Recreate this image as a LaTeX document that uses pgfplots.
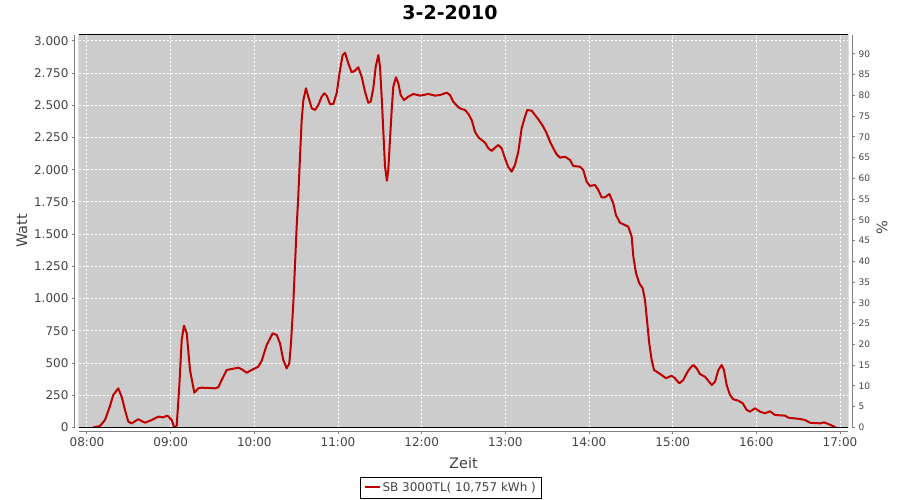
\documentclass[border=0pt]{standalone}
\usepackage{pgfplots}
\pgfplotsset{compat=1.18}
\usepackage{fontspec}
\setmainfont{DejaVu Sans}
\definecolor{plotbg}{RGB}{204,204,204}
\definecolor{serie}{RGB}{192,0,0}
\definecolor{txtgray}{RGB}{68,68,68}
\definecolor{axgray}{RGB}{128,128,128}
\begin{document}
\begin{tikzpicture}
\useasboundingbox (0,0) rectangle (900pt,500pt);
\begin{axis}[
  at={(79pt,72.5pt)}, anchor=south west,
  scale only axis, width=769pt, height=392.8pt,
  xmin=7.9044, xmax=17.0956, ymin=0, ymax=3048,
  axis background/.style={fill=plotbg},
  axis x line*=bottom, axis y line*=left,
  axis x line shift=4pt, axis y line shift=4pt,
  axis line style={axgray, line width=1pt, -},
  xtick={8,9,10,11,12,13,14,15,16,17},
  xticklabels={08:00,09:00,10:00,11:00,12:00,13:00,14:00,15:00,16:00,17:00},
  ytick={0,250,500,750,1000,1250,1500,1750,2000,2250,2500,2750,3000},
  yticklabels={0,250,500,750,1.000,1.250,1.500,1.750,2.000,2.250,2.500,2.750,3.000},
  tick align=outside, major tick length=3pt,
  tick style={axgray, line width=1pt},
  /pgf/number format/assume math mode=true,
  ticklabel style={font=\fontsize{12}{12}\selectfont, text=txtgray},
  grid=major,
  major grid style={white, line width=1pt, dash pattern=on 2pt off 2pt},
  xlabel={Zeit}, ylabel={Watt},
  label style={font=\fontsize{14.5}{14.5}\selectfont, text=txtgray},
  xlabel style={at={(axis description cs:0.5,-0.0904)}, anchor=center},
  ylabel style={at={(axis description cs:-0.0741,0.5)}, anchor=center},
  every axis title shift=0pt,
  title={3-2-2010},
  title style={at={(axis description cs:0.4824,1.0552)}, anchor=center, font=\fontsize{19}{19}\bfseries},
  legend style={at={(axis description cs:0.4834,-0.1527)}, anchor=center, draw=black, fill=white,
    font=\fontsize{12}{12}\selectfont, text=txtgray, inner xsep=3pt, inner ysep=3pt},
  legend image code/.code={\draw[#1, line width=2pt] (0pt,0pt) -- (15pt,0pt);},
  clip=true,
]
\addplot[serie, line width=2pt, line join=round, no markers] coordinates {
(8.075,0) (8.155,12) (8.215,58) (8.275,167) (8.314,252) (8.374,304) (8.414,239) (8.454,136)
(8.494,45) (8.534,32) (8.613,64) (8.693,37) (8.773,58) (8.852,84) (8.912,79) (8.96,92)
(9.012,58) (9.044,0) (9.072,12) (9.103,317) (9.132,679) (9.159,790) (9.192,731) (9.231,446)
(9.283,270) (9.33,304) (9.371,309) (9.53,304) (9.569,312) (9.61,369) (9.67,446) (9.729,454)
(9.809,464) (9.849,452) (9.909,425) (9.968,446) (10.048,472) (10.088,518) (10.148,640)
(10.219,731) (10.267,718) (10.307,653) (10.346,524) (10.386,459) (10.418,498) (10.438,653)
(10.466,964) (10.506,1558) (10.525,1791) (10.546,2101) (10.566,2386) (10.586,2541)
(10.617,2632) (10.645,2567) (10.686,2477) (10.725,2464) (10.765,2502) (10.805,2567)
(10.836,2593) (10.865,2575) (10.904,2510) (10.944,2510) (10.984,2593) (11.024,2774)
(11.056,2890) (11.084,2908) (11.123,2826) (11.164,2756) (11.203,2769) (11.243,2795)
(11.283,2722) (11.323,2606) (11.362,2520) (11.391,2528) (11.422,2632) (11.451,2800)
(11.482,2890) (11.502,2800) (11.522,2567) (11.541,2308) (11.562,2024) (11.585,1915)
(11.601,1998) (11.621,2231) (11.642,2464) (11.661,2645) (11.693,2718) (11.721,2671)
(11.749,2580) (11.789,2541) (11.84,2567) (11.9,2588) (11.98,2575) (12.079,2588)
(12.159,2575) (12.219,2580) (12.299,2598) (12.338,2580) (12.378,2528) (12.438,2485)
(12.478,2471) (12.518,2464) (12.558,2433) (12.598,2386) (12.637,2295) (12.677,2252)
(12.717,2231) (12.757,2210) (12.797,2167) (12.837,2146) (12.876,2171) (12.916,2192)
(12.956,2167) (12.996,2089) (13.036,2019) (13.076,1985) (13.115,2037) (13.155,2140)
(13.195,2322) (13.235,2412) (13.262,2464) (13.315,2458) (13.354,2425) (13.394,2392)
(13.454,2334) (13.494,2283) (13.534,2218) (13.573,2167) (13.613,2120) (13.653,2094)
(13.713,2101) (13.773,2076) (13.812,2029) (13.892,2024) (13.932,1998) (13.972,1907)
(14.012,1874) (14.072,1882) (14.111,1843) (14.151,1786) (14.191,1786) (14.243,1812)
(14.29,1740) (14.322,1649) (14.37,1589) (14.43,1571) (14.47,1558) (14.51,1481)
(14.53,1325) (14.562,1197) (14.601,1119) (14.642,1080) (14.669,989) (14.689,860)
(14.72,653) (14.749,524) (14.777,446) (14.828,425) (14.868,407) (14.92,382) (14.988,402)
(15.027,382) (15.079,343) (15.127,369) (15.167,421) (15.207,459) (15.247,485) (15.287,459)
(15.326,415) (15.386,394) (15.426,363) (15.466,330) (15.506,355) (15.546,446) (15.586,485)
(15.613,446) (15.645,330) (15.685,252) (15.725,219) (15.785,208) (15.837,188) (15.885,136)
(15.924,123) (15.984,149) (16.044,123) (16.104,110) (16.163,126) (16.223,97) (16.343,92)
(16.383,76) (16.522,66) (16.582,58) (16.641,37) (16.761,32) (16.809,40) (16.861,27)
(16.913,12) (16.95,0)
};
\addlegendentry{SB 3000TL( 10,757 kWh )}
\draw[black, line width=1pt] (rel axis cs:0,0) rectangle (rel axis cs:1,1);
\end{axis}
\begin{axis}[
  at={(79pt,72.5pt)}, anchor=south west,
  scale only axis, width=769pt, height=392.8pt,
  xmin=7.9044, xmax=17.0956, ymin=0, ymax=94.6,
  axis x line=none, axis y line*=right,
  axis y line shift=4pt,
  axis line style={axgray, line width=1pt, -},
  ytick={0,5,...,90},
  tick align=outside, major tick length=3pt,
  tick style={axgray, line width=1pt},
  /pgf/number format/assume math mode=true,
  yticklabel style={font=\fontsize{9}{9}\selectfont, text=txtgray},
  ylabel={\%},
  ylabel style={at={(axis description cs:1.0442,0.508)}, anchor=center, rotate=0, font=\fontsize{14.5}{14.5}\selectfont, text=txtgray},
]
\end{axis}
\end{tikzpicture}
\end{document}
